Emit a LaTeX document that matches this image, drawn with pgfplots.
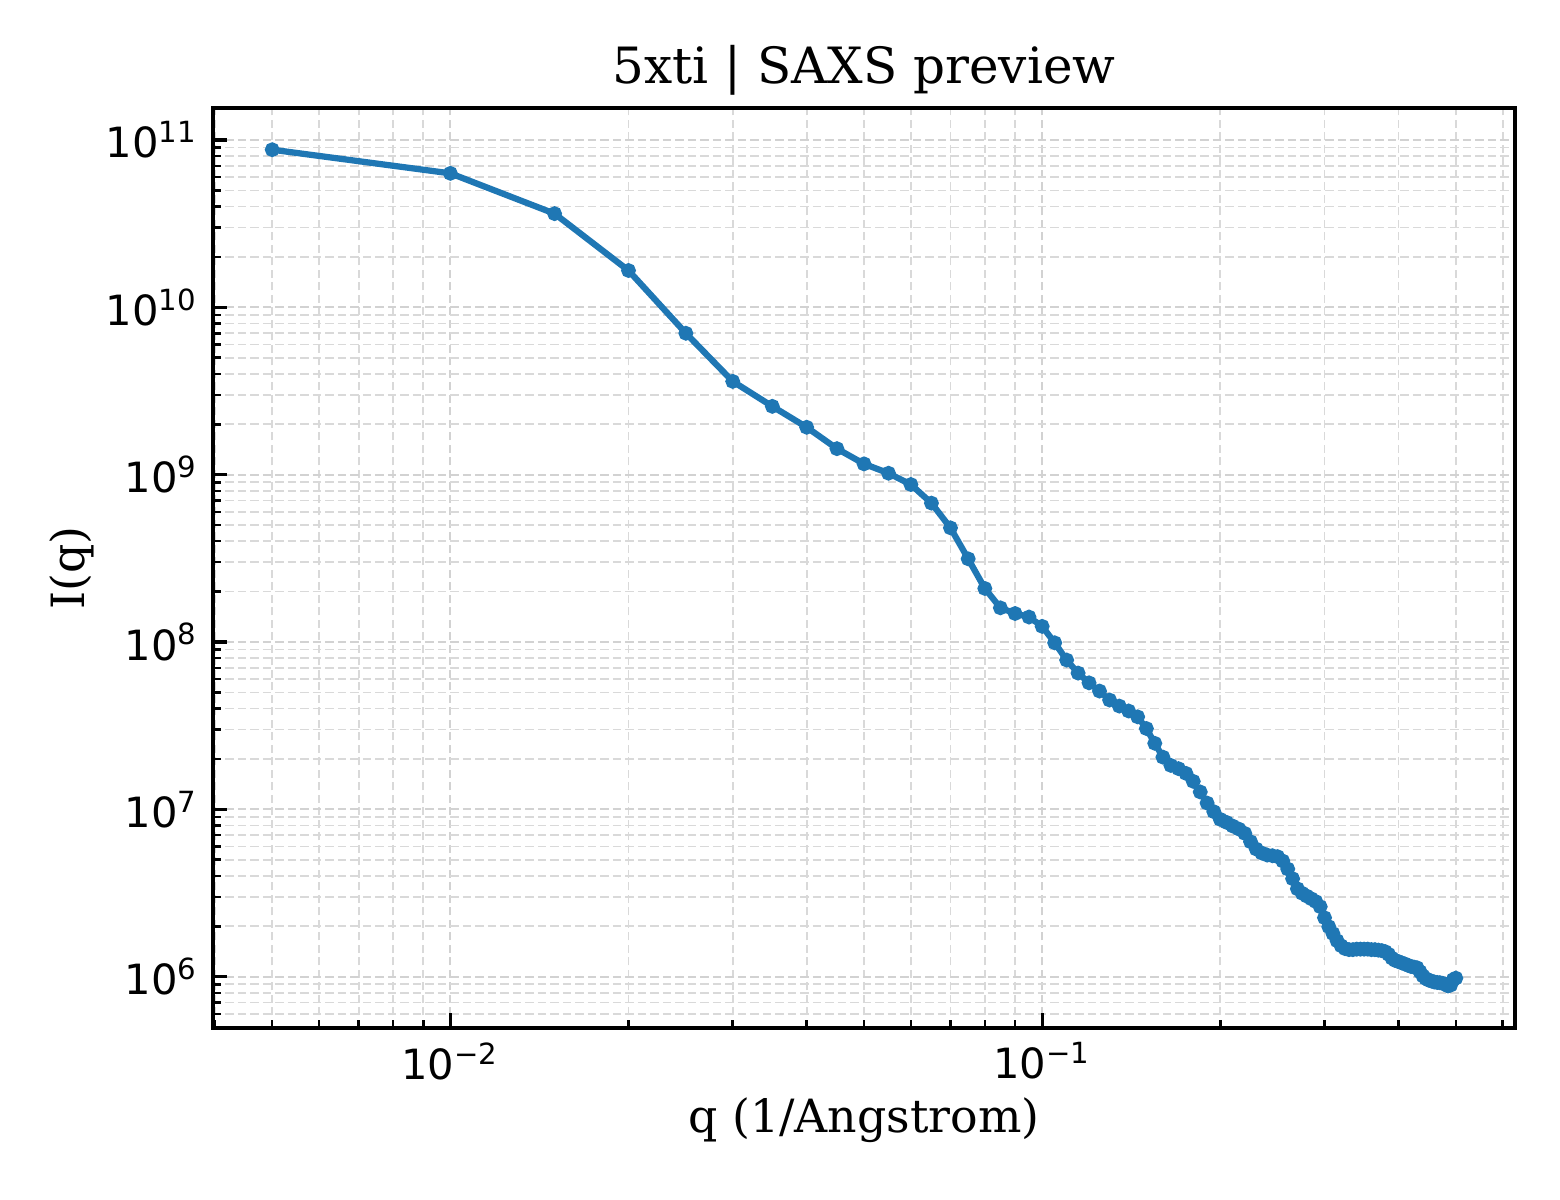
\documentclass[border=0pt]{standalone}
\usepackage{fontspec}
\setmainfont{DejaVu Serif}
\newfontfamily\ticksfont{DejaVu Sans}
\usepackage{pgfplots}
\pgfplotsset{compat=1.18}
\definecolor{tabblue}{HTML}{1F77B4}

\begin{document}
\begin{tikzpicture}
\begin{axis}[
    xmode=log, ymode=log,
    scale only axis,
    width=312.5pt, height=220.8pt,
    xmin=0.00397, xmax=0.6295,
    ymin=4.94e5, ymax=1.556e11,
    axis line style={line width=0.8pt},
    tick pos=left,
    tick align=inside,
    major tick length=3.5pt,
    minor tick length=2pt,
    every tick/.style={black, line width=0.8pt},
    every minor tick/.style={black, line width=0.6pt},
    xtick={0.01,0.1},
    xticklabels={10\textsuperscript{−2},10\textsuperscript{−1}},
    minor xtick={0.004,0.005,0.006,0.007,0.008,0.009,
                 0.02,0.03,0.04,0.05,0.06,0.07,0.08,0.09,
                 0.2,0.3,0.4,0.5,0.6},
    ytick={1e6,1e7,1e8,1e9,1e10,1e11},
    yticklabels={10\textsuperscript{6},10\textsuperscript{7},10\textsuperscript{8},
                 10\textsuperscript{9},10\textsuperscript{10},10\textsuperscript{11}},
    minor ytick={6e5,7e5,8e5,9e5,
                 2e6,3e6,4e6,5e6,6e6,7e6,8e6,9e6,
                 2e7,3e7,4e7,5e7,6e7,7e7,8e7,9e7,
                 2e8,3e8,4e8,5e8,6e8,7e8,8e8,9e8,
                 2e9,3e9,4e9,5e9,6e9,7e9,8e9,9e9,
                 2e10,3e10,4e10,5e10,6e10,7e10,8e10,9e10},
    tick label style={font=\ticksfont\fontsize{10}{12}\selectfont},
    grid=both,
    major grid style={gray!35, line width=0.5pt, dash pattern=on 2pt off 1pt},
    minor grid style={gray!30, line width=0.4pt, dash pattern=on 2pt off 1pt},
    title={5xti | SAXS preview},
    every axis title/.style={at={(axis description cs:0.5,1.041)}, anchor=center,
                             font=\fontsize{12}{14}\selectfont},
    xlabel={q (1/Angstrom)},
    ylabel={I(q)},
    every axis x label/.style={at={(axis description cs:0.5,-0.1)}, anchor=center,
                               font=\fontsize{11}{13}\selectfont},
    every axis y label/.style={at={(axis description cs:-0.108,0.5)}, anchor=center,
                               rotate=90, font=\fontsize{11}{13}\selectfont},
]
\addplot[tabblue, line width=1.5pt, mark=*, mark size=1pt,
         mark options={solid, fill=tabblue, draw=tabblue}] table {
q      I
0.005  8.75e10
0.010  6.32e10
0.015  3.63e10
0.020  1.66e10
0.025  7.0e9
0.030  3.61e9
0.035  2.56e9
0.040  1.92e9
0.045  1.43e9
0.050  1.16e9
0.055  1.02e9
0.060  8.73e8
0.065  6.76e8
0.070  4.81e8
0.075  3.14e8
0.080  2.09e8
0.085  1.60e8
0.090  1.48e8
0.095  1.41e8
0.100  1.24e8
0.105  9.89e7
0.110  7.8e7
0.115  6.52e7
0.120  5.70e7
0.125  5.09e7
0.130  4.50e7
0.135  4.14e7
0.140  3.87e7
0.145  3.57e7
0.150  3.04e7
0.155  2.48e7
0.160  2.05e7
0.165  1.83e7
0.170  1.75e7
0.175  1.64e7
0.180  1.47e7
0.185  1.27e7
0.190  1.09e7
0.195  9.68e6
0.200  8.71e6
0.205  8.35e6
0.210  7.94e6
0.215  7.62e6
0.220  7.18e6
0.225  6.40e6
0.230  5.79e6
0.235  5.48e6
0.240  5.33e6
0.245  5.28e6
0.250  5.21e6
0.255  4.91e6
0.260  4.40e6
0.265  3.85e6
0.270  3.35e6
0.275  3.15e6
0.280  3.03e6
0.285  2.92e6
0.290  2.81e6
0.295  2.62e6
0.300  2.25e6
0.305  1.99e6
0.310  1.81e6
0.315  1.64e6
0.320  1.53e6
0.325  1.47e6
0.330  1.45e6
0.335  1.45e6
0.340  1.46e6
0.345  1.46e6
0.350  1.46e6
0.355  1.46e6
0.360  1.45e6
0.365  1.45e6
0.370  1.44e6
0.375  1.43e6
0.380  1.41e6
0.385  1.36e6
0.390  1.29e6
0.395  1.25e6
0.400  1.23e6
0.405  1.21e6
0.410  1.19e6
0.415  1.17e6
0.420  1.15e6
0.425  1.14e6
0.430  1.13e6
0.435  1.07e6
0.440  1.01e6
0.445  9.73e5
0.450  9.53e5
0.455  9.40e5
0.460  9.29e5
0.465  9.23e5
0.470  9.20e5
0.475  9.12e5
0.480  9.00e5
0.485  8.80e5
0.490  8.90e5
0.495  9.60e5
0.500  9.80e5
};
\end{axis}
% page margins around the axis box, as in the reference
\path ([shift={(-51.1pt,-41.3pt)}]current axis.south west)
      rectangle ([shift={(10.8pt,25.9pt)}]current axis.north east);
\end{tikzpicture}
\end{document}
